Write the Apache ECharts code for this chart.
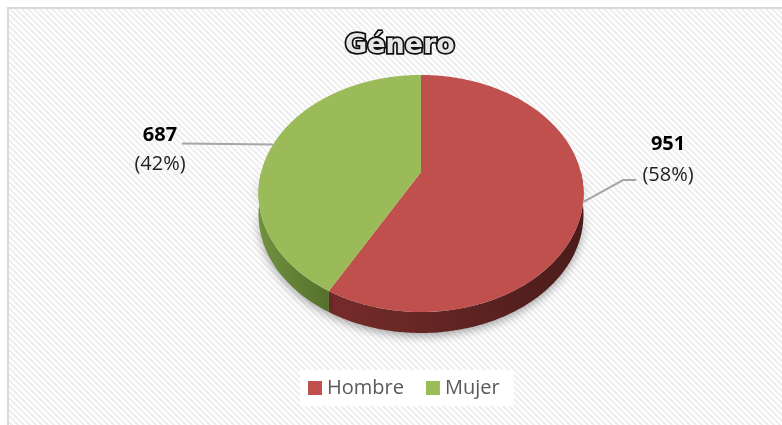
<!DOCTYPE html>
<html>
<head>
<meta charset="utf-8">
<script src="https://cdn.jsdelivr.net/npm/echarts@6/dist/echarts.min.js"></script>
<style>
    html, body { margin: 0; padding: 0; background: #fff; }
    #chart { width: 782px; height: 425px; }
</style>
</head>
<body>
<div id="chart"></div>
<script>
// datos
const categories = ['Hombre', 'Mujer'];
const counts = [951, 687];
const percentLabels = ['58%', '42%'];

const topColors = ['#C0504D', '#9BBB59'];
const sideColors = [['#762c2a', '#4a1c1b'], ['#72913f', '#55702c']];

// disco en perspectiva
const pie = { x0: 421, y0: 172, A: 159.8, B: 114.6, p: 0.1814, depth: 21 };

// etiquetas: punto medio del sector -> linea guia -> texto
const labelLayout = [
    { line: [[40, -22], [53, -22]], text: [85, -58, -27], align: 'center' },
    { line: [[-91, -1]], text: [-113, -9, 20], align: 'center' }
];

function project(theta, drop) {
    const u = Math.sin(theta), w = Math.cos(theta);
    const d = 1 + pie.p * w;
    return [pie.x0 + pie.A * u / d, pie.y0 - pie.B * w / d + (drop || 0)];
}

function arc(a, b, drop) {
    const pts = [];
    const n = Math.max(2, Math.ceil((b - a) / (Math.PI / 180)));
    for (let k = 0; k <= n; k++) {
        pts.push(project(a + (b - a) * k / n, drop));
    }
    return pts;
}

const total = counts.reduce((s, v) => s + v, 0);
const starts = [];
let acc = 0;
counts.forEach(v => { starts.push(acc / total * Math.PI * 2); acc += v; });

// fondo rayado
const tile = document.createElement('canvas');
tile.width = 6;
tile.height = 6;
(function () {
    const ctx = tile.getContext('2d');
    ctx.fillStyle = '#ffffff';
    ctx.fillRect(0, 0, 6, 6);
    ctx.fillStyle = '#efefef';
    for (let x = 0; x < 6; x++) {
        for (let y = 0; y < 6; y++) {
            if (((x - y) % 6 + 6) % 6 < 3) ctx.fillRect(x, y, 1, 1);
        }
    }
}());

function makeSeries(i) {
    return {
        name: categories[i],
        type: 'custom',
        coordinateSystem: 'none',
        itemStyle: { color: topColors[i] },
        data: [counts[i]],
        renderItem: function () {
            const a = starts[i];
            const b = a + counts[i] / total * Math.PI * 2;
            const children = [];

            // lateral
            const sa = Math.max(a, Math.PI / 2), sb = Math.min(b, Math.PI * 1.5);
            if (sa < sb) {
                const topEdge = arc(sa, sb, 0);
                const botEdge = arc(sa, sb, pie.depth).reverse();
                const xs = topEdge.map(p => p[0]);
                children.push({
                    type: 'polygon',
                    z2: 1,
                    shape: { points: topEdge.concat(botEdge) },
                    style: {
                        fill: {
                            type: 'linear', global: true,
                            x: Math.min.apply(null, xs), y: 0, x2: Math.max.apply(null, xs), y2: 0,
                            colorStops: [
                                { offset: 0, color: sideColors[i][0] },
                                { offset: 1, color: sideColors[i][1] }
                            ]
                        },
                        shadowBlur: 10,
                        shadowOffsetY: 3,
                        shadowColor: 'rgba(0,0,0,0.35)'
                    }
                });
            }

            // cara superior
            children.push({
                type: 'polygon',
                z2: 10,
                shape: { points: [[pie.x0, pie.y0]].concat(arc(a, b, 0)) },
                style: { fill: topColors[i] }
            });

            // etiqueta
            const anchor = project((a + b) / 2, 0);
            const lay = labelLayout[i];
            const pts = [anchor].concat(lay.line.map(o => [anchor[0] + o[0], anchor[1] + o[1]]));
            children.push({
                type: 'polyline',
                z2: 12,
                shape: { points: pts },
                style: { stroke: '#a6a6a6', lineWidth: 2, fill: null }
            });
            children.push({
                type: 'text',
                z2: 12,
                style: {
                    text: String(counts[i]),
                    x: anchor[0] + lay.text[0], y: anchor[1] + lay.text[1],
                    align: lay.align, verticalAlign: 'middle',
                    fill: '#000',
                    font: 'bold 20px "Open Sans"'
                }
            });
            children.push({
                type: 'text',
                z2: 12,
                style: {
                    text: '(' + percentLabels[i] + ')',
                    x: anchor[0] + lay.text[0], y: anchor[1] + lay.text[2],
                    align: lay.align, verticalAlign: 'middle',
                    fill: '#222',
                    font: '20px "Open Sans"'
                }
            });

            return { type: 'group', children: children };
        }
    };
}

const myChart = echarts.init(document.getElementById('chart'));

const option = {
    animation: false,
    backgroundColor: '#fff',
    graphic: [
        {
            type: 'rect',
            z: -10,
            shape: { x: 8, y: 8, width: 800, height: 500 },
            style: {
                fill: { image: tile, repeat: 'repeat' },
                stroke: '#d9d9d9',
                lineWidth: 2
            }
        }
    ],
    title: {
        text: 'Género',
        left: 340,
        top: 27,
        textStyle: {
            fontFamily: 'DejaVu Sans',
            fontWeight: 'bold',
            fontSize: 27,
            color: '#e6e6e6',
            textBorderColor: '#111',
            textBorderWidth: 3.5
        }
    },
    legend: {
        data: categories,
        icon: 'rect',
        itemWidth: 14,
        itemHeight: 14,
        itemGap: 22,
        left: 300,
        top: 370,
        padding: [8, 14, 8, 8],
        backgroundColor: '#fff',
        textStyle: {
            fontFamily: 'Open Sans',
            fontSize: 20,
            color: '#595959'
        }
    },
    series: categories.map((c, i) => makeSeries(i))
};

myChart.setOption(option);
</script>
</body>
</html>
